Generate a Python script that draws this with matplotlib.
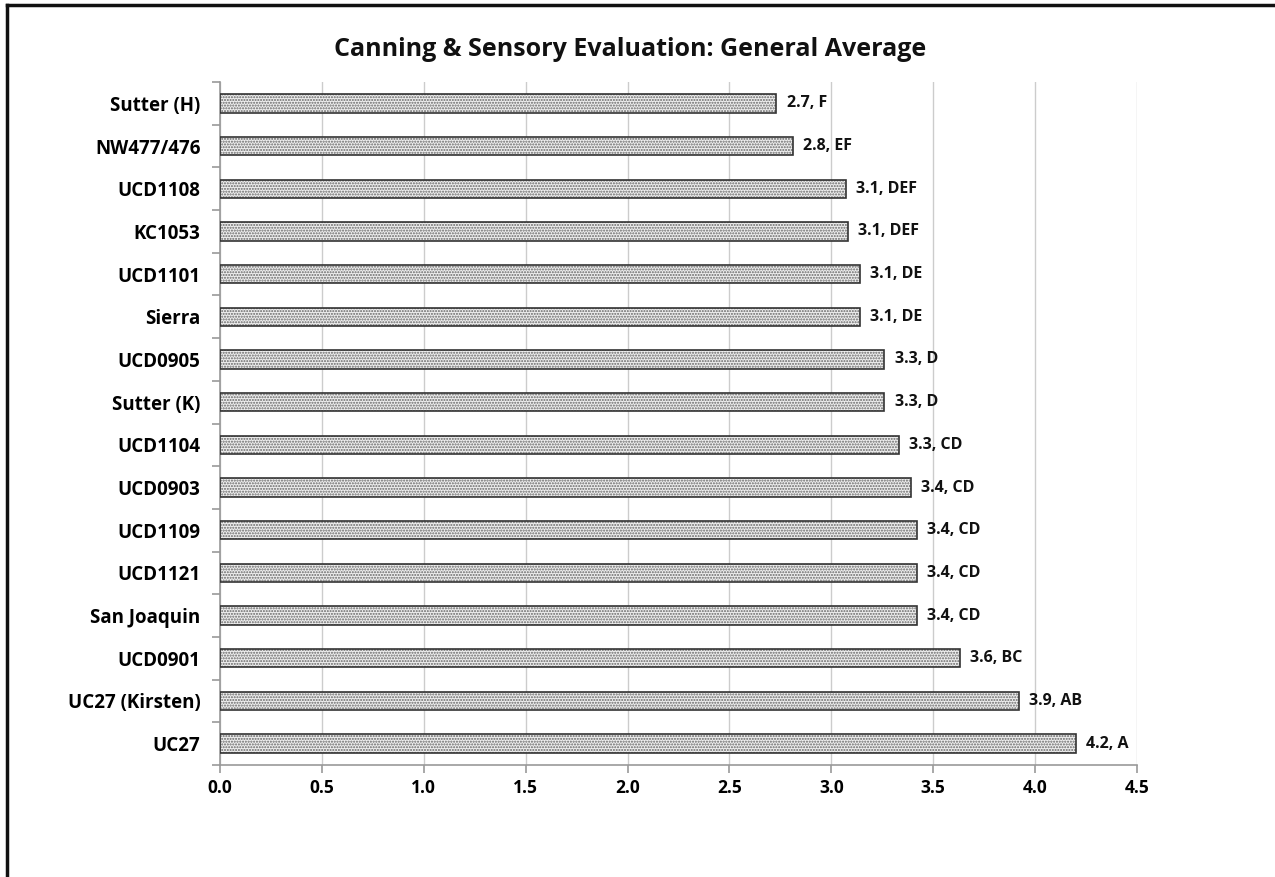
import numpy as np
import matplotlib
matplotlib.use("Agg")
import matplotlib.pyplot as plt
from matplotlib.lines import Line2D

# data, top to bottom as in the chart
varieties = ["Sutter (H)", "NW477/476", "UCD1108", "KC1053", "UCD1101", "Sierra",
             "UCD0905", "Sutter (K)", "UCD1104", "UCD0903", "UCD1109", "UCD1121",
             "San Joaquin", "UCD0901", "UC27 (Kirsten)", "UC27"]
scores = [2.73, 2.81, 3.07, 3.08, 3.14, 3.14, 3.26, 3.26, 3.33, 3.39, 3.42, 3.42,
          3.42, 3.63, 3.92, 4.20]
letters = ["F", "EF", "DEF", "DEF", "DE", "DE", "D", "D", "CD", "CD", "CD", "CD",
           "CD", "BC", "AB", "A"]
xticks = [0.0, 0.5, 1.0, 1.5, 2.0, 2.5, 3.0, 3.5, 4.0, 4.5]

plt.rcParams['font.family'] = ['Open Sans', 'DejaVu Sans']
plt.rcParams['font.weight'] = 'bold'

fig = plt.figure(figsize=(12.75, 8.77), dpi=100)
ax = fig.add_axes([0.1725, 0.1277, 0.7193, 0.7788])

y = np.arange(len(varieties))
h = 0.43
# dotted fill first, then a dark outline on top
ax.barh(y, scores, height=h, color="#eeeeee", edgecolor="#666666",
        hatch="......", linewidth=0, zorder=2)
ax.barh(y, scores, height=h, fill=False, edgecolor="#333333",
        linewidth=1.2, zorder=3)

for yi, s, l in zip(y, scores, letters):
    ax.text(s + 0.05, yi, "%.1f, %s" % (s, l), va="center", ha="left",
            fontsize=11.5, fontweight="bold", color="#111111")

ax.set_xlim(0, 4.5)
ax.set_ylim(len(varieties) - 0.5, -0.5)
ax.set_xticks(xticks)
ax.set_xticklabels(["%.1f" % v for v in xticks], fontsize=12.5, fontweight="bold")
ax.set_yticks(y)
ax.set_yticklabels(varieties, fontsize=13.5, fontweight="bold")
ax.set_yticks(np.arange(len(varieties) + 1) - 0.5, minor=True)

ax.tick_params(axis="y", which="major", length=0, pad=14)
ax.tick_params(axis="y", which="minor", length=6, color="#999999", width=1.2)
ax.tick_params(axis="x", length=6, color="#999999", width=1.2, pad=4)

ax.grid(axis="x", color="#cccccc", linewidth=1.0, zorder=0)
ax.set_axisbelow(True)
for side in ["top", "right"]:
    ax.spines[side].set_visible(False)
for side in ["left", "bottom"]:
    ax.spines[side].set_color("#999999")
    ax.spines[side].set_linewidth(1.2)

fig.text(0.494, 0.944, "Canning & Sensory Evaluation: General Average",
         ha="center", va="center", fontsize=18, fontweight="bold", color="#111111")

# outer frame (only top and left edges visible in the original)
fig.add_artist(Line2D([0.0055, 0.0055], [0, 0.9945], transform=fig.transFigure,
                      color="#111111", linewidth=2.5))
fig.add_artist(Line2D([0.0055, 1], [0.9945, 0.9945], transform=fig.transFigure,
                      color="#111111", linewidth=2.5))

fig.savefig("out.png", dpi=100)
